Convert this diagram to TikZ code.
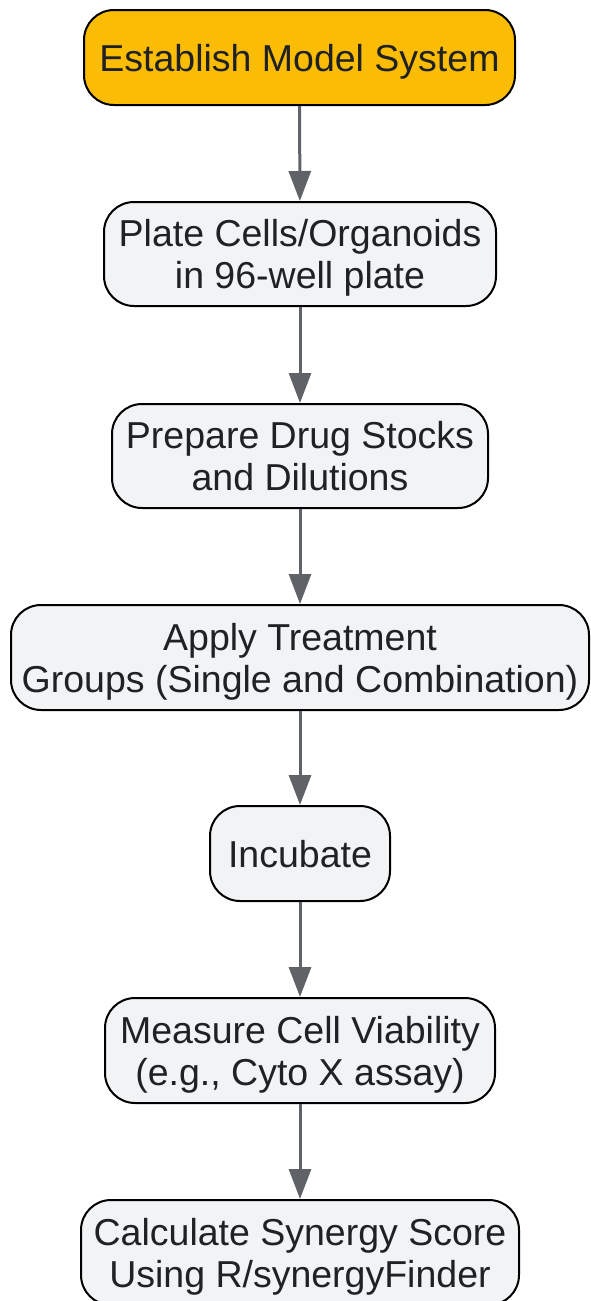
\documentclass[tikz,border=0pt]{standalone}
\usepackage{fontspec}
\setmainfont{Liberation Sans}
\usetikzlibrary{positioning,arrows.meta}
\definecolor{stepgold}{HTML}{FBBC05}
\definecolor{stepgray}{HTML}{F1F3F4}
\definecolor{flowgray}{HTML}{5F6368}
\definecolor{inkgray}{HTML}{202124}

\begin{document}
\begin{tikzpicture}[x=1pt,y=-1pt,
    box/.style={draw=black,line width=2pt,rounded corners=30pt,fill=stepgray,
        text=inkgray,align=center,inner sep=0pt,text depth=0pt,
        font=\fontsize{37.5}{42}\selectfont},
    flow/.style={draw=flowgray,line width=3pt,-{Triangle[length=30pt,width=22pt]}}]

\useasboundingbox (0,0) rectangle (590,1301);

%steps
\node[box,fill=stepgold,minimum width=431pt,minimum height=95pt] (establish) at (299.5,57.5) {Establish Model System};
\node[box,minimum width=392pt,minimum height=104pt] (plate) at (300,254) {Plate Cells/Organoids\\in 96-well plate};
\node[box,minimum width=376pt,minimum height=104pt] (prepare) at (300,456) {Prepare Drug Stocks\\and Dilutions};
\node[box,minimum width=578pt,minimum height=105pt] (apply) at (300,657.5) {Apply Treatment\\Groups (Single and Combination)};
\node[box,minimum width=180pt,minimum height=95pt] (incubate) at (300,853.5) {Incubate};
\node[box,minimum width=390pt,minimum height=105pt] (measure) at (300,1050.5) {Measure Cell Viability\\(e.g., Cyto X assay)};
\node[box,minimum width=438pt,minimum height=105pt] (calc) at (300,1252.5) {Calculate Synergy Score\\Using R/synergyFinder};

%arrows
\draw[flow] (establish) -- (plate);
\draw[flow] (plate) -- (prepare);
\draw[flow] (prepare) -- (apply);
\draw[flow] (apply) -- (incubate);
\draw[flow] (incubate) -- (measure);
\draw[flow] (measure) -- (calc);

\end{tikzpicture}
\end{document}
